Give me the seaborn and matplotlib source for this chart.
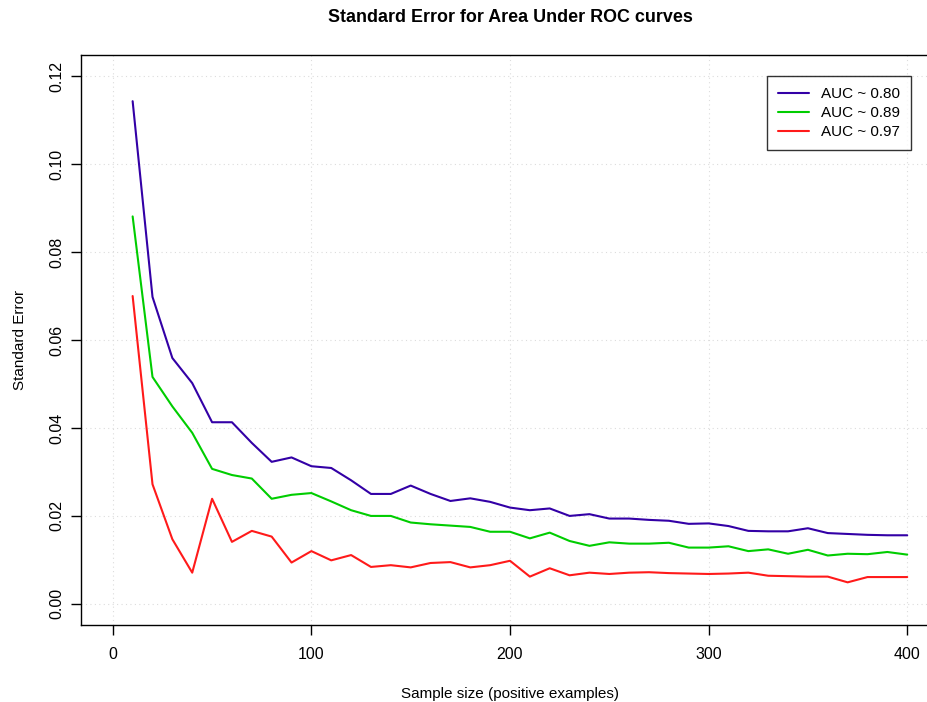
import matplotlib
matplotlib.use("Agg")
import matplotlib.pyplot as plt
import numpy as np
import pandas as pd
import seaborn as sns

# sample sizes (positive examples)
sample_size = list(range(10, 401, 10))

# standard error of the AUC
se_auc_080 = [0.1143, 0.0698, 0.0559, 0.0502, 0.0413, 0.0413, 0.0366, 0.0323, 0.0333, 0.0313,
              0.0309, 0.0281, 0.0250, 0.0250, 0.0269, 0.0250, 0.0234, 0.0240, 0.0232, 0.0219,
              0.0213, 0.0217, 0.0200, 0.0204, 0.0194, 0.0194, 0.0191, 0.0189, 0.0182, 0.0183,
              0.0177, 0.0166, 0.0165, 0.0165, 0.0172, 0.0161, 0.0159, 0.0157, 0.0156, 0.0156]
se_auc_089 = [0.0881, 0.0516, 0.0449, 0.0389, 0.0307, 0.0293, 0.0285, 0.0239, 0.0248, 0.0252,
              0.0233, 0.0213, 0.0200, 0.0200, 0.0185, 0.0181, 0.0178, 0.0175, 0.0164, 0.0164,
              0.0149, 0.0162, 0.0143, 0.0132, 0.0140, 0.0137, 0.0137, 0.0139, 0.0128, 0.0128,
              0.0131, 0.0120, 0.0124, 0.0114, 0.0123, 0.0110, 0.0114, 0.0113, 0.0118, 0.0112]
se_auc_097 = [0.0700, 0.0272, 0.0147, 0.0071, 0.0239, 0.0141, 0.0166, 0.0153, 0.0094, 0.0120,
              0.0099, 0.0111, 0.0084, 0.0088, 0.0083, 0.0093, 0.0095, 0.0083, 0.0088, 0.0098,
              0.0062, 0.0081, 0.0065, 0.0071, 0.0068, 0.0071, 0.0072, 0.0070, 0.0069, 0.0068,
              0.0069, 0.0071, 0.0064, 0.0063, 0.0062, 0.0062, 0.0049, 0.0061, 0.0061, 0.0061]

labels = ["AUC ~ 0.80", "AUC ~ 0.89", "AUC ~ 0.97"]
colors = ["#3300a6", "#00cd00", "#ff1a1a"]

df = pd.concat([
    pd.DataFrame({"n": sample_size, "se": vals, "curve": lab})
    for vals, lab in zip([se_auc_080, se_auc_089, se_auc_097], labels)
])

sns.set_style("white")
plt.rcParams["font.family"] = ["Liberation Sans", "DejaVu Sans"]
plt.rcParams["text.color"] = "black"
plt.rcParams["axes.labelcolor"] = "black"

fig = plt.figure(figsize=(9.28, 7.02), dpi=100)
# R-style plot region; right edge runs past the figure like the original
ax = fig.add_axes([81 / 928, 77 / 702, 858 / 928, 570 / 702])

sns.lineplot(data=df, x="n", y="se", hue="curve", palette=colors,
             linewidth=1.5, ax=ax, legend=False)

ax.set_xlim(-16, 416)
ax.set_ylim(-0.0048, 0.1248)
ax.set_xticks([0, 100, 200, 300, 400])
ax.set_yticks([0.00, 0.02, 0.04, 0.06, 0.08, 0.10, 0.12])
ax.set_yticklabels(["0.00", "0.02", "0.04", "0.06", "0.08", "0.10", "0.12"],
                   rotation=90, va="center")
ax.grid(True, color="#dcdcdc", linestyle=(0, (1, 3)), linewidth=0.8)
ax.set_axisbelow(True)

for s in ax.spines.values():
    s.set_color("black")
    s.set_linewidth(1.0)
ax.spines["right"].set_visible(False)
ax.tick_params(direction="out", length=7, width=1.0, colors="black",
               labelsize=11.5, left=True, bottom=True)
ax.tick_params(axis="x", pad=9)
ax.tick_params(axis="y", pad=5)

ax.set_xlabel("Sample size (positive examples)", fontsize=11, labelpad=18)
ax.set_ylabel("Standard Error", fontsize=11, labelpad=16)
fig.text(510 / 928, 1 - 18 / 702, "Standard Error for Area Under ROC curves",
         ha="center", va="center", fontsize=12.9, fontweight="bold")

handles = [plt.Line2D([], [], color=c, linewidth=1.5) for c in colors]
leg = fig.legend(handles, labels, loc="upper right",
                 bbox_to_anchor=(911 / 928, 1 - 76 / 702), bbox_transform=fig.transFigure,
                 fontsize=11, frameon=True, fancybox=False, borderaxespad=0,
                 handlelength=2.0, handletextpad=0.8, labelspacing=0.33, borderpad=0.72)
leg.get_frame().set_edgecolor("black")
leg.get_frame().set_linewidth(1.0)

fig.savefig("out.png", dpi=100)
